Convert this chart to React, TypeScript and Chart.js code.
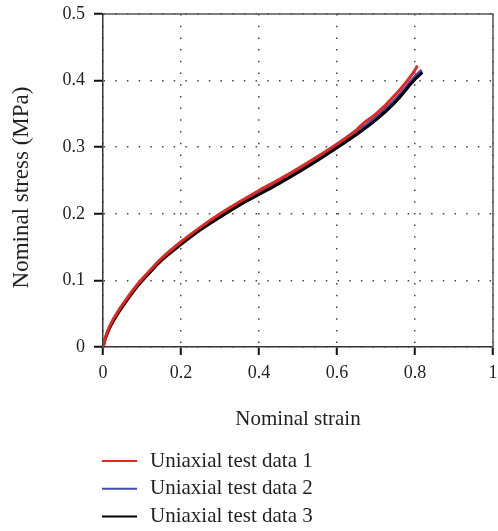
import { useEffect, useRef } from 'react';
import { Chart, registerables } from 'chart.js';

Chart.register(...registerables);

const FONT = '"Liberation Serif", "Times New Roman", serif';
const TEXT = '#231f20';

const xTickLabels = ['0', '0.2', '0.4', '0.6', '0.8', '1'];
const yTickLabels = ['0', '0.1', '0.2', '0.3', '0.4', '0.5'];
const xTitle = 'Nominal strain';
const yTitle = 'Nominal stress (MPa)';

const seriesNames = ['Uniaxial test data 1', 'Uniaxial test data 2', 'Uniaxial test data 3'];
const seriesColors = ['#e3261f', '#3f4db0', '#000000'];

const strain1 = [0, 0.005, 0.01, 0.02, 0.04, 0.06, 0.08, 0.1, 0.125, 0.15, 0.2, 0.25, 0.3, 0.35, 0.4, 0.45, 0.5, 0.55, 0.6, 0.65, 0.67, 0.7, 0.75, 0.8, 0.806];
const stress1 = [0, 0.012, 0.021, 0.035, 0.055, 0.072, 0.088, 0.102, 0.118, 0.133, 0.158, 0.18, 0.2, 0.218, 0.235, 0.251, 0.268, 0.286, 0.305, 0.326, 0.337, 0.35, 0.379, 0.416, 0.4225];

const strain2 = [0, 0.005, 0.01, 0.02, 0.04, 0.06, 0.08, 0.1, 0.125, 0.15, 0.2, 0.25, 0.3, 0.35, 0.4, 0.45, 0.5, 0.55, 0.6, 0.65, 0.7, 0.75, 0.8, 0.817];
const stress2 = [0, 0.011, 0.02, 0.033, 0.053, 0.07, 0.086, 0.1, 0.116, 0.131, 0.155, 0.177, 0.196, 0.214, 0.231, 0.247, 0.264, 0.282, 0.301, 0.322, 0.345, 0.372, 0.406, 0.416];

const strain3 = [0, 0.005, 0.01, 0.02, 0.04, 0.06, 0.08, 0.1, 0.125, 0.15, 0.2, 0.25, 0.3, 0.35, 0.4, 0.45, 0.5, 0.55, 0.6, 0.65, 0.7, 0.75, 0.8, 0.819];
const stress3 = [0, 0.011, 0.019, 0.032, 0.052, 0.069, 0.085, 0.099, 0.115, 0.13, 0.154, 0.176, 0.195, 0.213, 0.229, 0.245, 0.262, 0.28, 0.299, 0.319, 0.341, 0.368, 0.402, 0.4125];

const seriesX = [strain1, strain2, strain3];
const seriesY = [stress1, stress2, stress3];
const drawOrder = [1, 3, 2];

const boxLegendPlugin = {
  id: 'boxLegend',
  afterDraw(chart: any) {
    const { ctx, chartArea: a } = chart;
    ctx.save();
    // top and right frame
    ctx.strokeStyle = '#555';
    ctx.lineWidth = 1.5;
    ctx.beginPath();
    ctx.moveTo(a.left, a.top);
    ctx.lineTo(a.right, a.top);
    ctx.lineTo(a.right, a.bottom);
    ctx.stroke();

    // y-axis title
    ctx.save();
    ctx.translate(a.left - 81.3, (a.top + a.bottom) / 2 + 7);
    ctx.rotate(-Math.PI / 2);
    ctx.font = `23px ${FONT}`;
    ctx.textAlign = 'center';
    ctx.textBaseline = 'middle';
    ctx.fillStyle = TEXT;
    ctx.fillText(yTitle, 0, 0);
    ctx.restore();

    // legend
    ctx.font = `21px ${FONT}`;
    ctx.textBaseline = 'middle';
    ctx.textAlign = 'left';
    chart.data.datasets.forEach((ds: any, i: number) => {
      const y = a.bottom + 114 + i * 27.8;
      const x0 = a.left - 1;
      ctx.strokeStyle = ds.borderColor;
      ctx.lineWidth = 2;
      ctx.beginPath();
      ctx.moveTo(x0, y);
      ctx.lineTo(x0 + 35, y);
      ctx.stroke();
      ctx.fillStyle = TEXT;
      ctx.fillText(ds.label, x0 + 48, y);
    });
    ctx.restore();
  },
};

export default function App() {
  const ref = useRef<HTMLCanvasElement>(null);
  useEffect(() => {
    const datasets = seriesNames.map((name, i) => ({
      label: name,
      data: seriesX[i].map((x, j) => ({ x, y: seriesY[i][j] })),
      borderColor: seriesColors[i],
      backgroundColor: seriesColors[i],
      borderWidth: 3,
      pointRadius: 0,
      cubicInterpolationMode: 'monotone' as const,
      fill: false,
      order: drawOrder[i],
    }));
    const chart = new Chart(ref.current!, {
      type: 'line',
      data: { datasets },
      plugins: [boxLegendPlugin],
      options: {
        animation: false,
        responsive: false,
        devicePixelRatio: 1,
        layout: { padding: { left: 0, right: 5, top: 14, bottom: 99 } },
        plugins: { legend: { display: false }, tooltip: { enabled: false } },
        scales: {
          x: {
            type: 'linear',
            min: 0,
            max: 1,
            afterFit: (s: any) => {
              s.height = 85;
              s.paddingLeft = 0;
              s.paddingRight = 0;
            },
            ticks: {
              stepSize: 0.2,
              padding: 7,
              color: TEXT,
              font: { family: FONT, size: 18 },
              maxRotation: 0,
              callback: (_v: any, i: number) => xTickLabels[i] ?? '',
            },
            grid: {
              color: '#444',
              lineWidth: 1.5,
              tickLength: 8,
              tickColor: '#111',
              tickWidth: 2,
            },
            border: { display: true, color: '#333', width: 1.5, dash: [1.5, 10.2] },
            title: {
              display: true,
              text: xTitle,
              color: TEXT,
              font: { family: FONT, size: 21 },
              padding: { top: 0, bottom: 0 },
            },
          },
          y: {
            type: 'linear',
            min: 0,
            max: 0.5,
            afterFit: (s: any) => {
              s.width = 103;
              s.paddingTop = 0;
              s.paddingBottom = 0;
            },
            ticks: {
              stepSize: 0.1,
              padding: 9,
              color: TEXT,
              font: { family: FONT, size: 18 },
              callback: (_v: any, i: number) => yTickLabels[i] ?? '',
            },
            grid: {
              color: '#444',
              lineWidth: 1.5,
              tickLength: 9,
              tickColor: '#111',
              tickWidth: 2,
            },
            border: { display: true, color: '#333', width: 1.5, dash: [1.5, 10.2] },
            title: { display: false },
          },
        },
      },
    } as any);
    return () => chart.destroy();
  }, []);
  return (
    <div style={{ position: 'fixed', left: 0, top: 0, width: 498, height: 531, background: '#fff' }}>
      <canvas ref={ref} width={498} height={531} style={{ display: 'block' }} />
    </div>
  );
}
